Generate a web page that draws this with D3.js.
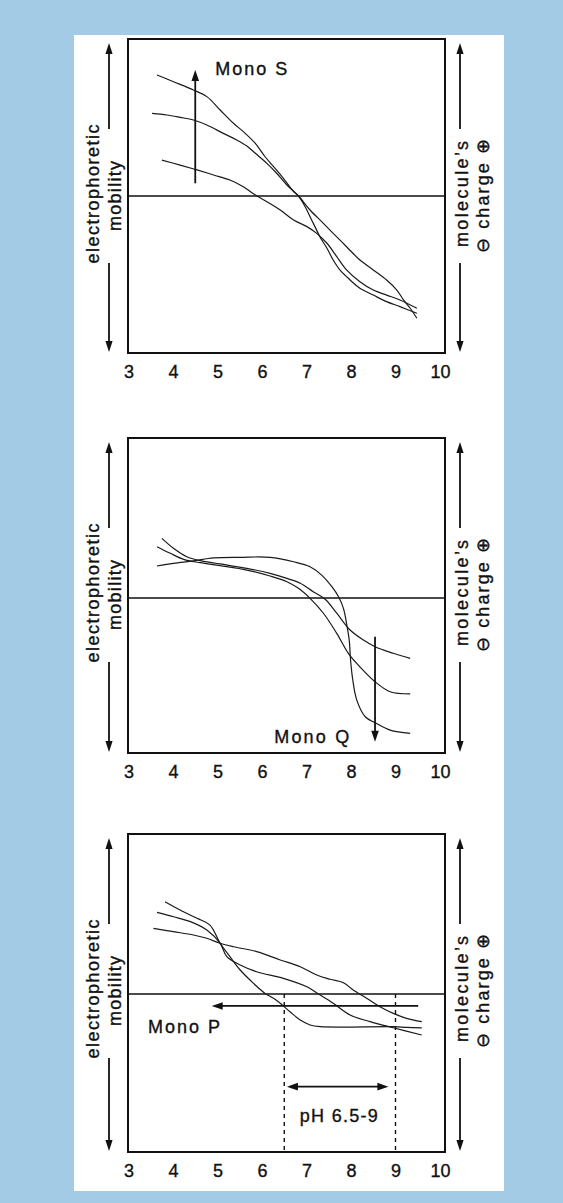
<!DOCTYPE html>
<html><head><meta charset="utf-8">
<script src="https://cdn.jsdelivr.net/npm/d3@7"></script>
<style>
body{margin:0;background:#a3cbe6;}
svg{display:block;}
text{font-family:"Liberation Sans",Arial,sans-serif;fill:#111;stroke:#111;stroke-width:0.35px;}
</style>
</head><body>
<svg id="chart" width="563" height="1203"></svg>
<script>
// ---- data ----
const xTicks = [3, 4, 5, 6, 7, 8, 9, 10];

// Panel 1: Mono S  ([pH, relative mobility])
const monoS_a = [[3.64,0.771],[4.01,0.728],[4.46,0.675],[4.76,0.633],[5.06,0.548],[5.36,0.463],[5.58,0.41],[5.85,0.335],[6.07,0.25],[6.26,0.187],[6.48,0.113],[6.71,0.028],[6.82,0],[7.08,-0.089],[7.38,-0.174],[7.6,-0.238],[7.9,-0.323],[8.2,-0.408],[8.5,-0.471],[8.8,-0.535],[9.03,-0.599],[9.18,-0.662],[9.33,-0.715],[9.48,-0.779]];
const monoS_b = [[3.53,0.526],[3.86,0.516],[4.16,0.501],[4.46,0.484],[4.76,0.452],[5.13,0.399],[5.43,0.357],[5.66,0.318],[5.85,0.272],[6.11,0.208],[6.33,0.145],[6.56,0.07],[6.82,0],[6.97,-0.068],[7.08,-0.132],[7.19,-0.195],[7.3,-0.259],[7.46,-0.333],[7.6,-0.408],[7.75,-0.471],[7.98,-0.535],[8.2,-0.588],[8.5,-0.631],[8.8,-0.673],[9.1,-0.705],[9.48,-0.747]];
const monoS_c = [[3.75,0.229],[4.16,0.197],[4.54,0.166],[4.91,0.134],[5.28,0.102],[5.58,0.059],[5.85,0.006],[6.11,-0.036],[6.41,-0.089],[6.71,-0.153],[7.01,-0.195],[7.23,-0.238],[7.46,-0.301],[7.68,-0.386],[7.9,-0.471],[8.2,-0.546],[8.5,-0.599],[8.8,-0.631],[9.1,-0.662],[9.48,-0.715]];

// Panel 2: Mono Q
const monoQ_d = [[3.64,0.204],[4.01,0.221],[4.46,0.236],[4.91,0.255],[5.51,0.259],[6.18,0.259],[6.71,0.231],[7.08,0.199],[7.34,0.146],[7.57,0.072],[7.72,0.008],[7.83,-0.066],[7.9,-0.161],[7.96,-0.268],[7.99,-0.395],[8.04,-0.522],[8.13,-0.65],[8.32,-0.756],[8.54,-0.794],[8.88,-0.841],[9.33,-0.862]];
const monoQ_e = [[3.75,0.38],[4.01,0.317],[4.31,0.263],[4.61,0.238],[5.06,0.217],[5.66,0.189],[6.18,0.157],[6.56,0.125],[6.86,0.094],[7.15,0.04],[7.42,-0.008],[7.68,-0.097],[7.98,-0.204],[8.28,-0.268],[8.54,-0.31],[8.95,-0.352],[9.33,-0.384]];
const monoQ_f = [[3.64,0.327],[3.94,0.285],[4.24,0.246],[4.61,0.225],[5.06,0.206],[5.66,0.178],[6.18,0.14],[6.56,0.104],[6.82,0.062],[7.08,-0.002],[7.38,-0.097],[7.68,-0.225],[7.94,-0.352],[8.2,-0.438],[8.54,-0.533],[8.88,-0.597],[9.33,-0.611]];

// Panel 3: Mono P
const monoP_g = [[3.82,0.588],[4.16,0.535],[4.54,0.482],[4.83,0.439],[5.06,0.323],[5.28,0.238],[5.51,0.153],[5.81,0.068],[6.07,0.004],[6.26,-0.027],[6.41,-0.059],[6.63,-0.113],[6.86,-0.166],[7.08,-0.197],[7.31,-0.208],[8.95,-0.208],[9.25,-0.212],[9.59,-0.215]];
const monoP_h = [[3.64,0.52],[4.01,0.492],[4.39,0.461],[4.76,0.408],[5.06,0.323],[5.21,0.238],[5.51,0.185],[5.88,0.142],[6.48,0.1],[7.01,0.046],[7.27,0],[7.6,-0.059],[7.98,-0.134],[8.43,-0.176],[8.95,-0.215],[9.59,-0.261]];
const monoP_i = [[3.56,0.418],[4.01,0.397],[4.46,0.376],[4.76,0.355],[5.06,0.323],[5.36,0.301],[5.88,0.27],[6.41,0.217],[6.86,0.174],[7.23,0.121],[7.53,0.094],[7.83,0.072],[8.05,0.025],[8.35,-0.027],[8.65,-0.081],[8.95,-0.123],[9.25,-0.155],[9.59,-0.176]];

// annotations (data units)
const monoSArrow = {ph: 4.5, from: 0.081, to: 0.803, label: "Mono S", lx: 4.95, ly: 0.77};
const monoQArrow = {ph: 8.54, from: -0.246, to: -0.915, label: "Mono Q", lx: 7.96, ly: -0.924};
const monoPArrow = {v: -0.076, from: 9.51, to: 4.87, label: "Mono P", lx: 3.44, ly: -0.248};
const phRange = [6.5, 9];
const phRangeArrow = {v: -0.59, from: 6.56, to: 8.84, label: "pH 6.5-9", lx: 6.85, ly: -0.813};

const leftLabel = ["electrophoretic", "mobility"];
const rightLabel = ["molecule\u2019s", "\u2296 charge \u2295"];

// ---- layout ----
const svg = d3.select("#chart");
svg.append("rect").attr("x", 0).attr("y", 0).attr("width", 563).attr("height", 1203).attr("fill", "#a3cbe6");
svg.append("rect").attr("x", 74).attr("y", 35).attr("width", 430).attr("height", 1156).attr("fill", "#fff");

const boxL = 128, boxR = 445;
const x = d3.scaleLinear().domain([3, 10]).range([128.5, 440]);
const FS = 18;

const panels = [
  {top: 39, bottom: 353, dom: [-1, 1], curves: [monoS_a, monoS_b, monoS_c]},
  {top: 438, bottom: 753, dom: [-0.987, 1.019], curves: [monoQ_d, monoQ_e, monoQ_f]},
  {top: 834, bottom: 1152, dom: [-1.006, 1.019], curves: [monoP_g, monoP_h, monoP_i]}
];

function head(g, tx, ty, dir, len = 10, hw = 3.6) {
  let p;
  if (dir === "up") p = [[tx, ty], [tx - hw, ty + len], [tx + hw, ty + len]];
  if (dir === "down") p = [[tx, ty], [tx - hw, ty - len], [tx + hw, ty - len]];
  if (dir === "left") p = [[tx, ty], [tx + len, ty - hw], [tx + len, ty + hw]];
  if (dir === "right") p = [[tx, ty], [tx - len, ty - hw], [tx - len, ty + hw]];
  g.append("path").attr("d", "M" + p.map(d => d.join(",")).join("L") + "Z").attr("fill", "#111");
}

function vtext(g, xb, yc, str, len) {
  g.append("text")
    .attr("transform", `translate(${xb},${yc}) rotate(-90)`)
    .attr("text-anchor", "middle")
    .attr("font-size", FS)
    .attr("textLength", len).attr("lengthAdjust", "spacing")
    .text(str);
}

panels.forEach((p, i) => {
  const g = svg.append("g");
  const y = d3.scaleLinear().domain(p.dom).range([p.bottom, p.top]);
  p.y = y;

  g.append("rect").attr("x", boxL).attr("y", p.top).attr("width", boxR - boxL).attr("height", p.bottom - p.top)
    .attr("fill", "none").attr("stroke", "#111").attr("stroke-width", 2);
  g.append("line").attr("x1", boxL).attr("x2", boxR).attr("y1", y(0)).attr("y2", y(0))
    .attr("stroke", "#111").attr("stroke-width", 1.6);

  const ax = g.append("g").attr("transform", `translate(0,${p.bottom})`)
    .call(d3.axisBottom(x).tickValues(xTicks).tickSize(0).tickPadding(12).tickFormat(d3.format("d")));
  ax.select(".domain").remove();
  ax.selectAll("text").attr("font-size", FS).attr("font-family", '"Liberation Sans",Arial,sans-serif')
    .attr("fill", "#111").attr("stroke", "#111").attr("stroke-width", 0.35);

  [109, 460].forEach(ax0 => {
    g.append("line").attr("x1", ax0).attr("x2", ax0).attr("y1", p.top + 12).attr("y2", p.top + 90)
      .attr("stroke", "#111").attr("stroke-width", 1.8);
    g.append("line").attr("x1", ax0).attr("x2", ax0).attr("y1", p.top + 224).attr("y2", p.bottom - 10)
      .attr("stroke", "#111").attr("stroke-width", 1.8);
    head(g, ax0, p.top + 4, "up", 11, 3.6);
    head(g, ax0, p.bottom - 1, "down", 11, 3.6);
  });

  vtext(g, 99, p.top + 155, leftLabel[0], 139);
  vtext(g, 121, p.top + 157, leftLabel[1], 70);
  vtext(g, 468, p.top + 155, rightLabel[0], 106);
  vtext(g, 489, p.top + 157, rightLabel[1], 114);

  const line = d3.line().x(d => x(d[0])).y(d => y(d[1])).curve(d3.curveCatmullRom.alpha(0.5));
  p.curves.forEach(c => {
    g.append("path").attr("d", line(c)).attr("fill", "none").attr("stroke", "#1a1a1a").attr("stroke-width", 1.2);
  });
  p.g = g;
});

{
  const p = panels[0], g = p.g, y = p.y, a = monoSArrow;
  g.append("line").attr("x1", x(a.ph)).attr("x2", x(a.ph)).attr("y1", y(a.from)).attr("y2", y(a.to) + 8)
    .attr("stroke", "#111").attr("stroke-width", 1.8);
  head(g, x(a.ph), y(a.to), "up", 11, 3.8);
  g.append("text").attr("x", x(a.lx)).attr("y", y(a.ly)).attr("font-size", FS).attr("textLength", 72)
    .attr("lengthAdjust", "spacing").text(a.label);
}
{
  const p = panels[1], g = p.g, y = p.y, a = monoQArrow;
  g.append("line").attr("x1", x(a.ph)).attr("x2", x(a.ph)).attr("y1", y(a.from)).attr("y2", y(a.to) - 8)
    .attr("stroke", "#111").attr("stroke-width", 1.8);
  head(g, x(a.ph), y(a.to), "down", 11, 3.8);
  g.append("text").attr("x", x(a.lx)).attr("y", y(a.ly)).attr("font-size", FS).attr("text-anchor", "end")
    .attr("textLength", 75).attr("lengthAdjust", "spacing").text(a.label);
}
{
  const p = panels[2], g = p.g, y = p.y, a = monoPArrow;
  g.append("line").attr("x1", x(a.from)).attr("x2", x(a.to) + 8).attr("y1", y(a.v)).attr("y2", y(a.v))
    .attr("stroke", "#111").attr("stroke-width", 1.8);
  head(g, x(a.to), y(a.v), "left", 11, 3.8);
  g.append("text").attr("x", x(a.lx)).attr("y", y(a.ly)).attr("font-size", FS)
    .attr("textLength", 72).attr("lengthAdjust", "spacing").text(a.label);

  phRange.forEach(v => {
    g.append("line").attr("x1", x(v)).attr("x2", x(v)).attr("y1", y(0)).attr("y2", p.bottom)
      .attr("stroke", "#111").attr("stroke-width", 1.4).attr("stroke-dasharray", "4,4");
  });
  const r = phRangeArrow;
  g.append("line").attr("x1", x(r.from) + 8).attr("x2", x(r.to) - 8).attr("y1", y(r.v)).attr("y2", y(r.v))
    .attr("stroke", "#111").attr("stroke-width", 1.8);
  head(g, x(r.from), y(r.v), "left", 11, 3.8);
  head(g, x(r.to), y(r.v), "right", 11, 3.8);
  g.append("text").attr("x", x(r.lx)).attr("y", y(r.ly)).attr("font-size", FS)
    .attr("textLength", 78).attr("lengthAdjust", "spacing").text(r.label);
}
</script>
</body></html>
